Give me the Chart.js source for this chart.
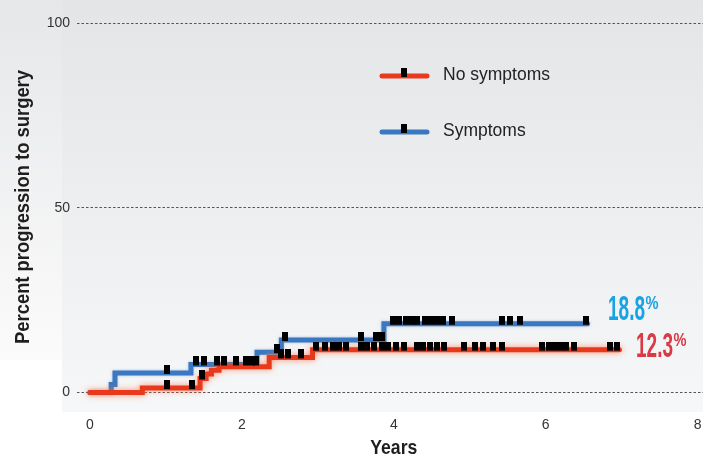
<!DOCTYPE html>
<html>
<head>
<meta charset="utf-8">
<script src="https://cdn.jsdelivr.net/npm/chart.js@4.4.1/dist/chart.umd.min.js"></script>
<style>
  html, body { margin: 0; background: #fff; overflow: hidden; }
  #wrap { width: 703px; height: 461px; overflow: hidden; }
</style>
</head>
<body>
<div id="wrap"><canvas id="myChart" width="708" height="461"></canvas></div>
<script>
// step curves (years, cumulative % progressed)
const noSymptomsYears = [0, 0.69, 1.45, 1.53, 1.60, 1.70, 2.36, 2.93, 6.97];
const noSymptomsPct   = [0, 1.2, 3.8, 5.0, 6.0, 7.0, 9.5, 11.6, 11.6];
const symptomsYears   = [0, 0.28, 0.33, 1.33, 2.20, 2.52, 3.87, 6.55];
const symptomsPct     = [0, 2.2, 5.3, 7.6, 10.9, 14.2, 18.6, 18.6];

// censored follow-up times (black ticks)
const noSymptomsCensored = [1.02, 1.35, 1.48, 2.52, 2.61, 2.78, 2.98, 3.09, 3.20, 3.28, 3.37,
  3.57, 3.65, 3.74, 3.84, 3.93, 4.03, 4.13, 4.30, 4.39, 4.48, 4.57, 4.66, 4.93, 5.07, 5.17,
  5.31, 5.43, 5.95, 6.04, 6.12, 6.20, 6.27, 6.37, 6.84, 6.94];
const symptomsCensored = [1.02, 1.40, 1.50, 1.67, 1.77, 1.92, 2.06, 2.13, 2.19, 2.46, 2.57,
  3.57, 3.77, 3.85, 3.99, 4.07, 4.16, 4.24, 4.31, 4.41, 4.49, 4.57, 4.65, 4.76, 5.42, 5.53,
  5.66, 6.53];

const seriesNames = ['No symptoms', 'Symptoms'];
const finalLabels = ['12.3', '18.8'];
const xTicks = [0, 2, 4, 6, 8];
const yTicks = [0, 50, 100];

const RED = '#e8391d';
const BLUE = '#3a78c2';
const SANS = '"Liberation Sans", Arial, sans-serif';

const toPoints = (xs, ys) => xs.map((x, i) => ({ x, y: ys[i] }));
const stepAt = (xs, ys, t) => {
  let v = ys[0];
  for (let i = 0; i < xs.length; i++) if (xs[i] <= t) v = ys[i];
  return v;
};
const censorPoints = (times, xs, ys) => times.map(t => ({ x: t, y: stepAt(xs, ys, t) }));

// little black tick sitting on top of the line
const tick = document.createElement('canvas');
tick.width = 6; tick.height = 16;
(() => { const c = tick.getContext('2d'); c.fillStyle = '#000'; c.fillRect(0, 0, 6, 9); })();

// text squeezed to a given width (the original uses a condensed face)
const squeezed = (c, txt, x, y, width, font) => {
  c.save();
  c.font = font;
  const w = c.measureText(txt).width;
  c.translate(x, y);
  c.scale(width / w, 1);
  c.fillText(txt, 0, 0);
  c.restore();
};

const backdrop = {
  id: 'backdrop',
  beforeDraw(chart) {
    const c = chart.ctx;
    c.save();
    c.fillStyle = '#fff';
    c.fillRect(0, 0, chart.width, chart.height);
    let g = c.createLinearGradient(0, 0, 0, 412);
    g.addColorStop(0, '#e4e5e7');
    g.addColorStop(1, '#f6f7f8');
    c.fillStyle = g;
    c.fillRect(62, 0, chart.width - 62, 412);
    g = c.createLinearGradient(0, 0, 0, 360);
    g.addColorStop(0, '#e6e7e9');
    g.addColorStop(1, '#fbfbfb');
    c.fillStyle = g;
    c.fillRect(0, 0, 62, 360);
    c.restore();
  }
};

const glow = {
  id: 'glow',
  beforeDatasetDraw(chart, args) {
    const ds = chart.data.datasets[args.index];
    if (!ds.glowColor) return;
    chart.ctx.save();
    chart.ctx.shadowColor = ds.glowColor;
    chart.ctx.shadowBlur = ds.glowBlur;
  },
  afterDatasetDraw(chart, args) {
    const ds = chart.data.datasets[args.index];
    if (ds.glowColor) chart.ctx.restore();
  }
};

const extras = {
  id: 'extras',
  afterDraw(chart) {
    const c = chart.ctx;
    const xs = chart.scales.x;
    c.save();
    // axis titles
    c.fillStyle = '#1e1e1e';
    c.textAlign = 'left';
    c.textBaseline = 'middle';
    squeezed(c, 'Years', xs.getPixelForValue(4) - 23.5, 448, 47, 'bold 21px ' + SANS);
    c.save();
    c.translate(23, 207);
    c.rotate(-Math.PI / 2);
    squeezed(c, 'Percent progression to surgery', -137, 0, 274, 'bold 21px ' + SANS);
    c.restore();

    // legend
    const rows = [{ y: 76, color: RED }, { y: 132, color: BLUE }];
    rows.forEach((r, i) => {
      c.strokeStyle = r.color;
      c.lineWidth = 5;
      c.lineCap = 'round';
      c.beginPath();
      c.moveTo(382, r.y);
      c.lineTo(427, r.y);
      c.stroke();
      c.drawImage(tick, 401, r.y - 8);
      c.fillStyle = '#222';
      c.font = '17.5px ' + SANS;
      c.fillText(seriesNames[i], 443, r.y - 1);
    });

    // end-of-curve percentages
    c.textBaseline = 'alphabetic';
    const pct = (txt, x, base, color) => {
      c.fillStyle = color;
      squeezed(c, txt, x, base, 37, 'bold 35px ' + SANS);
      squeezed(c, '%', x + 37.5, base - 11, 13, 'bold 18px ' + SANS);
    };
    pct(finalLabels[1], 608, 320, '#18a3e2');
    pct(finalLabels[0], 636, 357, '#d93a45');
    c.restore();
  }
};

new Chart(document.getElementById('myChart'), {
  type: 'line',
  data: {
    datasets: [
      {
        label: seriesNames[0] + ' censored',
        type: 'scatter',
        data: censorPoints(noSymptomsCensored, noSymptomsYears, noSymptomsPct),
        pointStyle: tick,
        order: 0
      },
      {
        label: seriesNames[1] + ' censored',
        type: 'scatter',
        data: censorPoints(symptomsCensored, symptomsYears, symptomsPct),
        pointStyle: tick,
        order: 0
      },
      {
        label: seriesNames[0],
        data: toPoints(noSymptomsYears, noSymptomsPct),
        stepped: true,
        borderColor: RED,
        borderWidth: 5,
        borderCapStyle: 'round',
        pointRadius: 0,
        glowColor: 'rgba(255, 110, 60, 0.75)',
        glowBlur: 6,
        order: 1
      },
      {
        label: seriesNames[1],
        data: toPoints(symptomsYears, symptomsPct),
        stepped: true,
        borderColor: BLUE,
        borderWidth: 5,
        borderCapStyle: 'round',
        pointRadius: 0,
        glowColor: 'rgba(110, 150, 210, 0.5)',
        glowBlur: 3,
        order: 2
      }
    ]
  },
  options: {
    responsive: false,
    animation: false,
    devicePixelRatio: 1,
    layout: { padding: { top: 23, left: 0, right: 0, bottom: 0 } },
    plugins: {
      legend: { display: false },
      tooltip: { enabled: false },
      title: { display: false }
    },
    scales: {
      x: {
        type: 'linear',
        min: -0.17,
        max: 8.07,
        afterBuildTicks: s => { s.ticks = xTicks.map(v => ({ value: v })); },
        afterFit: s => { s.height = 50; },
        grid: { display: false },
        border: { display: false },
        ticks: { color: '#333', padding: -2, font: { family: SANS, size: 14 } }
      },
      y: {
        min: -5,
        max: 100,
        afterBuildTicks: s => { s.ticks = yTicks.map(v => ({ value: v })); },
        afterFit: s => { s.width = 77; },
        grid: { color: '#555', lineWidth: 1, drawTicks: false },
        border: { display: false, dash: [2.5, 2] },
        ticks: { color: '#333', padding: 7, font: { family: SANS, size: 14 } }
      }
    }
  },
  plugins: [backdrop, glow, extras]
});
</script>
</body>
</html>
